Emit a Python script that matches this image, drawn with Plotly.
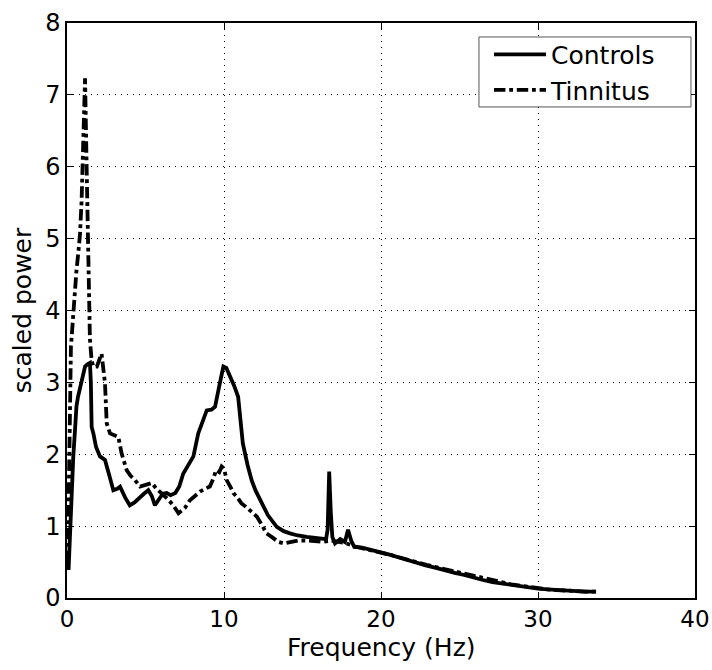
import plotly.graph_objects as go

# Frequency (Hz) and scaled power
ctrl_f = [0.1, 0.2, 0.3, 0.4, 0.5, 0.6, 0.7, 0.83, 0.95, 1.05,
          1.15, 1.3, 1.46, 1.52, 1.57, 1.68, 1.85, 2.1, 2.42, 2.7,
          2.95, 3.2, 3.38, 3.7, 4.0, 4.3, 4.65, 4.9, 5.18, 5.4,
          5.6, 5.9, 6.1, 6.35, 6.6, 6.9, 7.15, 7.4, 7.7, 8.05,
          8.36, 8.6, 8.9, 9.2, 9.43, 9.7, 9.96, 10.15, 10.4, 10.65,
          10.9, 11.05, 11.2, 11.5, 11.76, 12.0, 12.3, 12.8, 13.36, 13.8,
          14.2, 14.7, 15.27, 15.8, 16.3, 16.5, 16.6, 16.7, 16.8, 16.9,
          17.07, 17.4, 17.7, 17.9, 18.1, 18.3, 18.8, 19.4, 20.0, 20.6,
          21.2, 21.8, 22.3, 22.9, 23.5, 24.1, 24.7, 25.3, 25.9, 26.5,
          27.1, 27.7, 28.3, 28.9, 29.5, 30.0, 30.6, 31.2, 31.8, 32.4,
          33.0, 33.7]
ctrl_p = [0.39, 1.0, 1.6, 1.97, 2.3, 2.66, 2.8, 2.94, 3.05, 3.15,
          3.22, 3.25, 3.27, 3.0, 2.38, 2.29, 2.1, 1.97, 1.92, 1.7,
          1.50, 1.52, 1.55, 1.40, 1.29, 1.33, 1.41, 1.45, 1.50, 1.42,
          1.29, 1.38, 1.45, 1.46, 1.43, 1.46, 1.55, 1.73, 1.85, 1.97,
          2.29, 2.45, 2.61, 2.62, 2.66, 2.95, 3.22, 3.20, 3.08, 2.95,
          2.80, 2.5, 2.15, 1.85, 1.64, 1.5, 1.36, 1.15, 0.99, 0.93,
          0.90, 0.87, 0.85, 0.84, 0.83, 0.82, 0.95, 1.76, 1.2, 0.85,
          0.76, 0.82, 0.78, 0.95, 0.80, 0.71, 0.70, 0.67, 0.64, 0.60,
          0.56, 0.52, 0.48, 0.45, 0.42, 0.38, 0.35, 0.32, 0.28, 0.25,
          0.22, 0.20, 0.18, 0.16, 0.14, 0.13, 0.12, 0.11, 0.10, 0.10,
          0.09, 0.09]

tin_f = [0.05, 0.12, 0.18, 0.25, 0.32, 0.4, 0.5, 0.6, 0.72, 0.83,
         0.93, 1.04, 1.15, 1.25, 1.36, 1.46, 1.57, 1.68, 1.9, 2.05,
         2.2, 2.42, 2.53, 2.74, 3.0, 3.27, 3.48, 3.8, 4.05, 4.33,
         4.65, 5.0, 5.4, 5.7, 6.03, 6.4, 6.77, 7.1, 7.5, 7.83,
         8.15, 8.47, 8.8, 9.1, 9.3, 9.5, 9.7, 9.85, 10.0, 10.17,
         10.4, 10.6, 10.85, 11.1, 11.5, 11.87, 12.1, 12.4, 12.7, 13.1,
         13.46, 13.8, 14.2, 14.7, 15.27, 15.8, 16.3, 16.8, 17.3, 17.8,
         18.3, 18.8, 19.4, 20.0, 20.6, 21.2, 21.8, 22.3, 22.9, 23.5,
         24.1, 24.7, 25.3, 25.9, 26.5, 27.1, 27.7, 28.3, 28.9, 29.5,
         30.0, 30.6, 31.2, 31.8, 32.4, 33.0, 33.7]
tin_p = [0.5, 1.9, 2.7, 3.5, 3.7, 4.0, 4.33, 4.55, 4.8, 5.07,
         5.53, 6.47, 7.23, 6.0, 4.6, 3.6, 3.3, 3.22, 3.22, 3.3,
         3.40, 2.99, 2.43, 2.29, 2.26, 2.24, 2.01, 1.78, 1.70, 1.64,
         1.55, 1.57, 1.60, 1.52, 1.46, 1.38, 1.29, 1.18, 1.25, 1.36,
         1.42, 1.48, 1.52, 1.55, 1.65, 1.78, 1.75, 1.83, 1.80, 1.64,
         1.55, 1.46, 1.40, 1.32, 1.25, 1.18, 1.13, 1.02, 0.90, 0.84,
         0.78, 0.76, 0.78, 0.80, 0.80, 0.79, 0.78, 0.80, 0.78, 0.76,
         0.72, 0.69, 0.66, 0.63, 0.60, 0.56, 0.53, 0.49, 0.46, 0.43,
         0.40, 0.37, 0.33, 0.30, 0.27, 0.24, 0.21, 0.19, 0.17, 0.15,
         0.13, 0.12, 0.11, 0.10, 0.10, 0.09, 0.09]

series_names = ["Controls", "Tinnitus"]
x_ticks = [0, 10, 20, 30, 40]
y_ticks = [0, 1, 2, 3, 4, 5, 6, 7, 8]
x_title = "Frequency (Hz)"
y_title = "scaled power"

FONT = "DejaVu Sans, Liberation Sans, Arial, sans-serif"

fig = go.Figure()
fig.add_trace(go.Scatter(x=ctrl_f, y=ctrl_p, mode="lines", name=series_names[0],
                         line=dict(color="black", width=3.8, dash="solid")))
fig.add_trace(go.Scatter(x=tin_f, y=tin_p, mode="lines", name=series_names[1],
                         line=dict(color="black", width=3.8, dash="dashdot")))

axis_common = dict(
    showline=True, linecolor="black", linewidth=1.5, mirror="allticks",
    ticks="inside", ticklen=6, tickwidth=1, tickcolor="black",
    showgrid=True, gridcolor="black", gridwidth=1, griddash="1px,5px",
    zeroline=False, automargin=False,
)

fig.update_xaxes(range=[0, 40], tickvals=x_ticks,
                 tickfont=dict(family=FONT, size=23, color="black"),
                 **axis_common)
fig.update_yaxes(range=[0, 8], tickvals=y_ticks,
                 tickfont=dict(family=FONT, size=24, color="black"),
                 title=dict(text=y_title, standoff=6,
                            font=dict(family=FONT, size=25, color="black")),
                 **axis_common)

# x-axis title placed as paper annotation
fig.add_annotation(text=x_title, xref="paper", yref="paper", x=0.5, y=-0.0855,
                   xanchor="center", yanchor="middle", showarrow=False,
                   font=dict(family=FONT, size=25, color="black"))

# legend frame (layout decoration)
fig.add_shape(type="rect", xref="paper", yref="paper",
              x0=0.656, x1=0.9936, y0=0.854, y1=0.9757,
              line=dict(color="#555555", width=1), fillcolor="white", layer="above")

fig.update_layout(
    width=712, height=670,
    margin=dict(l=67, r=17, t=23, b=72),
    paper_bgcolor="white", plot_bgcolor="white",
    showlegend=True,
    legend=dict(x=0.672, y=0.985, xanchor="left", yanchor="top",
                bgcolor="rgba(0,0,0,0)", borderwidth=0,
                font=dict(family=FONT, size=25, color="black"),
                itemwidth=52, tracegroupgap=0),
)

fig.write_html("out.html")
